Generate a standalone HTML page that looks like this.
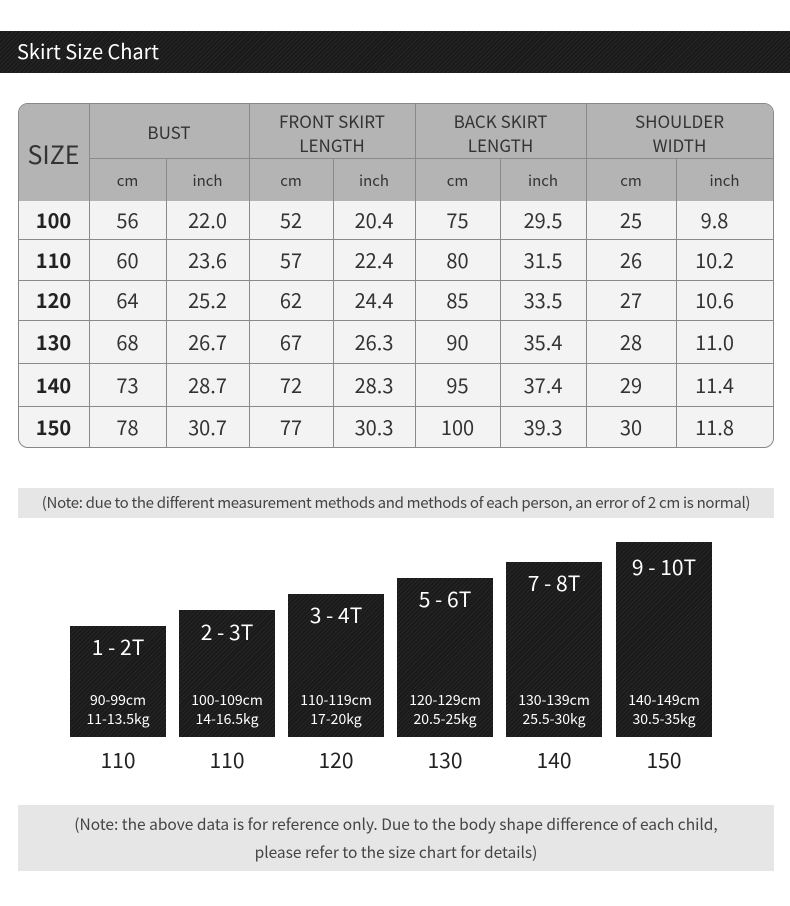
<!DOCTYPE html>
<html><head><meta charset="utf-8"><style>
*{margin:0;padding:0;box-sizing:border-box}
body{width:790px;height:906px;background:#fff;position:relative;font-family:"Noto Sans CJK SC","Liberation Sans",sans-serif;overflow:hidden}
.a{position:absolute}
.stripe{background:#1e1e1e repeating-linear-gradient(135deg,#262626 0 1px,#1a1a1a 1px 3px)}
.c{position:absolute;display:flex;align-items:center;justify-content:center;text-align:center;color:#333;line-height:1.2}
.box{position:absolute;width:96px;bottom:169px}
.box .t{position:absolute;left:0;right:0;text-align:center;color:#fff;font-size:21px;line-height:26px}
.box .s{position:absolute;left:0;right:0;bottom:8px;text-align:center;color:#fff;font-size:14px;line-height:19px}
.lab{position:absolute;top:746px;width:96px;text-align:center;font-size:21px;color:#222;line-height:28px}
</style></head><body>
<div class="a stripe" style="left:0;top:31px;width:790px;height:42px"></div>
<div class="a" style="left:17px;top:37px;color:#fff;font-size:20px;line-height:28px">Skirt Size Chart</div>

<div class="a" style="left:18px;top:103px;width:756px;height:345px;border:1px solid #888;border-radius:10px;overflow:hidden;background:#f3f3f3">
<div class="a" style="left:0;top:0;width:756px;height:97px;background:#b4b4b4"></div>
</div>
<svg class="a" style="left:0;top:0" width="790" height="906">
<g stroke="#8a8a8a" stroke-width="1" shape-rendering="crispEdges">
<line x1="89.5" y1="103" x2="89.5" y2="447"/>
<line x1="249.5" y1="103" x2="249.5" y2="447"/>
<line x1="415.5" y1="103" x2="415.5" y2="447"/>
<line x1="586.5" y1="103" x2="586.5" y2="447"/>
<line x1="166.5" y1="158" x2="166.5" y2="447"/>
<line x1="333.5" y1="158" x2="333.5" y2="447"/>
<line x1="500.5" y1="158" x2="500.5" y2="447"/>
<line x1="676.5" y1="158" x2="676.5" y2="447"/>
<line x1="89" y1="158.5" x2="773" y2="158.5"/>
<line x1="18" y1="239.5" x2="773" y2="239.5"/>
<line x1="18" y1="280.5" x2="773" y2="280.5"/>
<line x1="18" y1="320.5" x2="773" y2="320.5"/>
<line x1="18" y1="363.5" x2="773" y2="363.5"/>
<line x1="18" y1="406.5" x2="773" y2="406.5"/>
</g></svg>
<div class="c" style="left:18px;top:105px;width:71px;height:97px;font-size:25px">SIZE</div>
<div class="c" style="left:89px;top:105px;width:160px;height:55px;font-size:17px">BUST</div>
<div class="c" style="left:249px;top:105px;width:166px;height:55px;font-size:17px;line-height:24px">FRONT SKIRT<br>LENGTH</div>
<div class="c" style="left:415px;top:105px;width:171px;height:55px;font-size:17px;line-height:24px">BACK SKIRT<br>LENGTH</div>
<div class="c" style="left:586px;top:105px;width:187px;height:55px;font-size:17px;line-height:24px">SHOULDER<br>WIDTH</div>
<div id="units"></div>
<div id="rows"></div>

<div class="a" style="left:18px;top:488px;width:756px;height:30px;background:#e6e6e6"></div>
<div class="c" style="left:18px;top:488px;width:756px;height:30px;font-size:15px;color:#444;letter-spacing:-0.3px">(Note: due to the different measurement methods and methods of each person, an error of 2 cm is normal)</div>

<div class="box stripe" style="left:70px;top:626px"><div class="t" style="top:8px">1 - 2T</div><div class="s">90-99cm<br>11-13.5kg</div></div>
<div class="box stripe" style="left:179px;top:610px"><div class="t" style="top:9px">2 - 3T</div><div class="s">100-109cm<br>14-16.5kg</div></div>
<div class="box stripe" style="left:288px;top:594px"><div class="t" style="top:8px">3 - 4T</div><div class="s">110-119cm<br>17-20kg</div></div>
<div class="box stripe" style="left:397px;top:578px"><div class="t" style="top:8px">5 - 6T</div><div class="s">120-129cm<br>20.5-25kg</div></div>
<div class="box stripe" style="left:506px;top:562px"><div class="t" style="top:8px">7 - 8T</div><div class="s">130-139cm<br>25.5-30kg</div></div>
<div class="box stripe" style="left:616px;top:542px"><div class="t" style="top:12px">9 - 10T</div><div class="s">140-149cm<br>30.5-35kg</div></div>
<div class="lab" style="left:70px">110</div>
<div class="lab" style="left:179px">110</div>
<div class="lab" style="left:288px">120</div>
<div class="lab" style="left:397px">130</div>
<div class="lab" style="left:506px">140</div>
<div class="lab" style="left:616px">150</div>

<div class="a" style="left:18px;top:805px;width:756px;height:66px;background:#e6e6e6"></div>
<div class="c" style="left:18px;top:809px;width:756px;height:58px;font-size:15.5px;line-height:28px;color:#444">(Note: the above data is for reference only. Due to the body shape difference of each child,<br>please refer to the size chart for details)</div>

<script>
var xs=[18,89,166,249,333,415,500,586,676,773];
var u=document.getElementById('units'),h='';
for(var i=1;i<9;i++){h+='<div class="c" style="left:'+xs[i]+'px;top:160px;width:'+(xs[i+1]-xs[i])+'px;height:41px;font-size:15px">'+(i%2?'cm':'inch')+'</div>';}
u.innerHTML=h;
var ys=[200,239,280,320,363,406,447];
var d=[["100","56","22.0","52","20.4","75","29.5","25","9.8"],["110","60","23.6","57","22.4","80","31.5","26","10.2"],["120","64","25.2","62","24.4","85","33.5","27","10.6"],["130","68","26.7","67","26.3","90","35.4","28","11.0"],["140","73","28.7","72","28.3","95","37.4","29","11.4"],["150","78","30.7","77","30.3","100","39.3","30","11.8"]];
h='';
for(var r=0;r<6;r++)for(var c=0;c<9;c++){
var w=xs[c+1]-xs[c],pad=c==8?'padding-right:20px;':'';
h+='<div class="c" style="left:'+xs[c]+'px;top:'+ys[r]+'px;width:'+w+'px;height:'+(ys[r+1]-ys[r])+'px;font-size:20px;'+pad+(c==0?'font-weight:bold;color:#222;':'')+'">'+d[r][c]+'</div>';}
document.getElementById('rows').innerHTML=h;
</script>
</body></html>
